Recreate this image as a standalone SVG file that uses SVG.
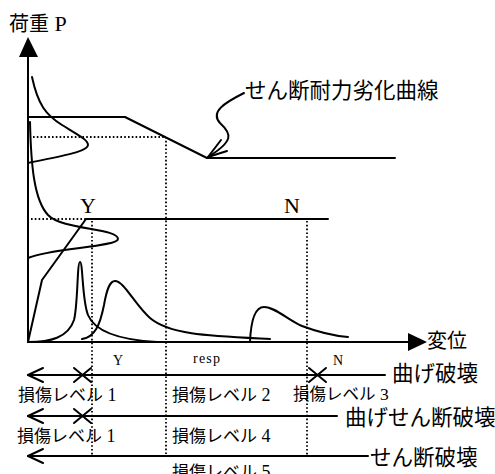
<svg xmlns="http://www.w3.org/2000/svg" width="495" height="474" viewBox="0 0 495 474">
<style>
.ln{fill:none;stroke:#000;stroke-width:2;stroke-linecap:round;stroke-linejoin:round}
.dot{fill:none;stroke:#000;stroke-width:1.8;stroke-dasharray:1.6 2.2}
.jp{font-family:"Noto Sans CJK JP","Noto Sans",sans-serif;fill:#000}
.sf{font-family:"Liberation Serif",serif;fill:#000}
.big{font-size:21.5px}
.lvl{font-size:17px}
.sm{font-size:14px}
</style>
<rect width="495" height="474" fill="#fff"/>
<g id="axes">
<line class="ln" x1="28" y1="55" x2="28" y2="342"/>
<polygon points="28,37 19,57 38,57" fill="#000"/>
<line class="ln" x1="28" y1="342" x2="410" y2="342"/>
<polygon points="427,342 408,333 408,351" fill="#000"/>
<text class="jp" x="9" y="31" font-size="20">荷重<tspan class="sf" font-size="22"> P</tspan></text>
<text class="jp" x="427" y="348" font-size="20">変位</text>
</g>
<g id="connectors">
<polyline class="dot" points="33,137 166,137 166,456"/>
<polyline class="dot" points="31,219 86,219"/>
<line class="dot" x1="92" y1="221" x2="92" y2="456"/>
<line class="dot" x1="307" y1="221" x2="307" y2="456"/>
</g>
<g id="shear-curve">
<polyline class="ln" points="28,117 125,117 207,158 395,158"/>
<text class="jp big" x="245" y="98">せん断耐力劣化曲線</text>
<path class="ln" d="M244,93 C224,103 210,112 220,123 C232,134 234,141 208,157"/>
<polyline class="ln" points="221,140 208,157 227,151"/>
</g>
<g id="flexure-curve">
<polyline class="ln" points="28,342 42,280 86,219 328,219"/>
<text class="sf" x="88" y="213" font-size="22" text-anchor="middle">Y</text>
<text class="sf" x="292" y="213" font-size="22" text-anchor="middle">N</text>
</g>
<g id="distributions">
<path class="ln" d="M32,77 C38,105 46,115 62,125 C80,136 88,140 88,145 C88,152 60,156 28,163"/>
<path class="ln" d="M30,122 C31,165 34,200 48,215 C62,230 118,228 118,239 C118,247 50,248 28,258"/>
<path class="ln" d="M28,342 C50,342 68,338 74,320 C78,305 77,262 80,262 C83,262 82,300 88,315 C95,332 120,340 157,342"/>
<path class="ln" d="M82,339 C95,337 100,325 104,305 C107,288 110,281 115,281 C124,281 135,305 150,318 C170,335 210,336 270,339"/>
<path class="ln" d="M250,342 C251,318 256,307 264,307 C275,307 288,320 302,326 C318,332 335,336 348,337"/>
</g>
<g id="legend-labels">
<text class="sf sm" x="118" y="365" text-anchor="middle">Y</text>
<text class="sf sm" x="193" y="363" textLength="27">resp</text>
<text class="sf sm" x="338" y="365" text-anchor="middle">N</text>
</g>
<g id="flexure-failure">
<line class="ln" x1="28" y1="375" x2="385" y2="375"/>
<polyline class="ln" points="43,368 28,375 43,382"/>
<path class="ln" d="M74,368 L91,382 M74,382 L91,368"/>
<path class="ln" d="M309,368 L326,382 M309,382 L326,368"/>
<text class="jp big" x="392" y="381">曲げ破壊</text>
<text class="jp lvl" x="18" y="401">損傷レベル<tspan class="sf" font-size="18"> 1</tspan></text>
<text class="jp lvl" x="172" y="401">損傷レベル<tspan class="sf" font-size="18"> 2</tspan></text>
<text class="jp" x="293" y="400" font-size="16.5">損傷レベル<tspan class="sf" font-size="17.5"> 3</tspan></text>
</g>
<g id="flexure-shear-failure">
<line class="ln" x1="28" y1="416" x2="337" y2="416"/>
<polyline class="ln" points="43,409 28,416 43,423"/>
<path class="ln" d="M74,409 L91,423 M74,423 L91,409"/>
<text class="jp big" x="345" y="425">曲げせん断破壊</text>
<text class="jp lvl" x="17" y="442">損傷レベル<tspan class="sf" font-size="18"> 1</tspan></text>
<text class="jp lvl" x="172" y="442">損傷レベル<tspan class="sf" font-size="18"> 4</tspan></text>
</g>
<g id="shear-failure">
<line class="ln" x1="28" y1="456" x2="368" y2="456"/>
<polyline class="ln" points="43,449 28,456 43,463"/>
<text class="jp big" x="370" y="465">せん断破壊</text>
<text class="jp lvl" x="172" y="478">損傷レベル<tspan class="sf" font-size="18"> 5</tspan></text>
</g>
</svg>
